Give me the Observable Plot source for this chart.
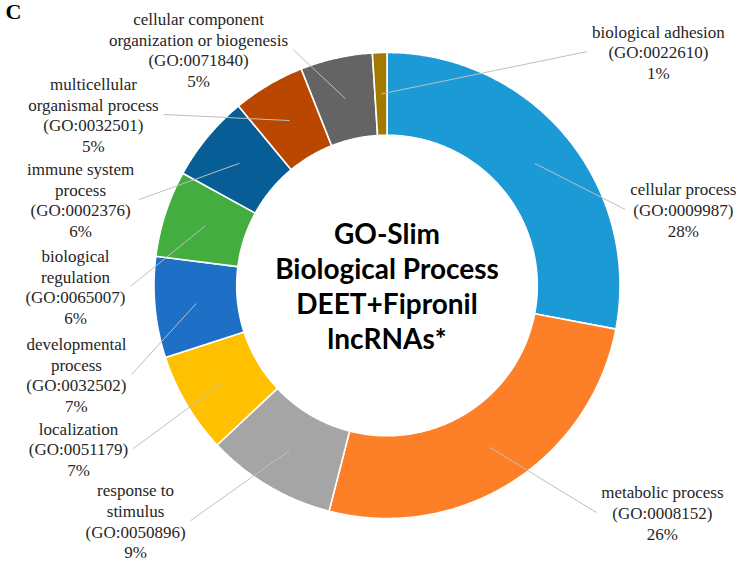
<!DOCTYPE html>
<html>
<head>
<meta charset="utf-8">
<script src="https://cdn.jsdelivr.net/npm/d3@7"></script>
<script src="https://cdn.jsdelivr.net/npm/@observablehq/plot@0.6"></script>
<style>
  html, body { margin: 0; padding: 0; background: #ffffff; }
  #chart { width: 739px; height: 562px; }
</style>
</head>
<body>
<div id="chart"></div>
<script>
// ---------- data ----------
const categories = [
  "cellular process", "metabolic process", "response to stimulus", "localization",
  "developmental process", "biological regulation", "immune system process",
  "multicellular organismal process", "cellular component organization or biogenesis",
  "biological adhesion"
];
const goIds = [
  "GO:0009987", "GO:0008152", "GO:0050896", "GO:0051179", "GO:0032502",
  "GO:0065007", "GO:0002376", "GO:0032501", "GO:0071840", "GO:0022610"
];
const percents = [28, 26, 9, 7, 7, 6, 6, 5, 5, 1];
const labelNameLines = [
  ["cellular process"], ["metabolic process"], ["response to", "stimulus"], ["localization"],
  ["developmental", "process"], ["biological", "regulation"], ["immune system", "process"],
  ["multicellular", "organismal process"], ["cellular component", "organization or biogenesis"],
  ["biological adhesion"]
];
const centerTitle = ["GO-Slim", "Biological Process", "DEET+Fipronil", "lncRNAs*"];
const panelLetter = "C";

// ---------- styles / layout ----------
const colors = ["#1c9ad6", "#fd7f27", "#a5a5a5", "#ffc000", "#1e6fc6",
                "#43ae3f", "#075d96", "#b94700", "#646464", "#a37a00"];
const W = 739, H = 562;
const CX = 386.5, CY = 285, R = 233;      // pixel centre and outer radius
const INNER = 0.645;                      // inner radius as fraction of outer
// label block centres, in units of the outer radius (x right, y up)
const labelAt = [
  [1.272, 0.326], [1.182, -0.974], [-1.079, -1.009], [-1.324, -0.700], [-1.333, -0.382],
  [-1.337, -0.004], [-1.315, 0.369], [-1.260, 0.734], [-0.809, 1.013], [1.165, 1.004]
];
const labelFont = "Liberation Serif";
const labelSize = 17;
const lineH = 20.7;

// ---------- geometry ----------
const arcs = d3.pie().sort(null).value(d => d)(percents);
const rows = [];
arcs.forEach((a, i) => {
  const n = Math.max(2, Math.ceil((a.endAngle - a.startAngle) / (Math.PI / 360)));
  const pts = [];
  for (let k = 0; k <= n; k++) {
    const t = a.startAngle + (a.endAngle - a.startAngle) * k / n;
    pts.push([Math.sin(t), Math.cos(t)]);
  }
  for (let k = n; k >= 0; k--) {
    const t = a.startAngle + (a.endAngle - a.startAngle) * k / n;
    pts.push([INNER * Math.sin(t), INNER * Math.cos(t)]);
  }
  pts.push(pts[0]);
  pts.forEach(([x, y]) => rows.push({name: categories[i], x, y}));
});

// text widths for leader line endpoints
const ctx = document.createElement("canvas").getContext("2d");
ctx.font = `${labelSize}px "${labelFont}", serif`;
const labels = categories.map((c, i) => {
  const lines = [...labelNameLines[i], `(${goIds[i]})`, `${percents[i]}%`];
  const w = d3.max(lines, l => ctx.measureText(l).width);
  const [lx, ly] = labelAt[i];
  const a = arcs[i];
  const mid = (a.startAngle + a.endAngle) / 2;
  const rm = (1 + INNER) / 2;
  const side = lx < 0 ? 1 : -1;
  return {
    text: lines.join("\n"),
    x: lx, y: ly,
    ax: rm * Math.sin(mid), ay: rm * Math.cos(mid),
    ex: lx + side * (w / 2 + 5) / R, ey: ly
  };
});

const chart = Plot.plot({
  width: W, height: H, margin: 0,
  style: {background: "#ffffff", overflow: "visible"},
  x: {domain: [-CX / R, (W - CX) / R], axis: null},
  y: {domain: [-(H - CY) / R, CY / R], axis: null},
  color: {domain: categories, range: colors},
  marks: [
    Plot.line(rows, {x: "x", y: "y", z: "name", fill: "name", stroke: "#ffffff",
                     strokeWidth: 1.6, curve: "linear"}),
    Plot.link(labels, {x1: "ax", y1: "ay", x2: "ex", y2: "ey", stroke: "#bfbfbf", strokeWidth: 1}),
    Plot.text(labels, {x: "x", y: "y", text: "text", fontFamily: `"${labelFont}", serif`, fontSize: labelSize,
                       lineHeight: lineH / labelSize, lineAnchor: "middle", textAnchor: "middle",
                       fill: "#262626"}),
    Plot.text([centerTitle.join("\n")], {x: () => 0, y: () => 0, text: d => d,
                       fontFamily: "Lato", fontWeight: "bold", fontSize: 28,
                       lineHeight: 35 / 28, lineAnchor: "middle", fill: "#000000"}),
    Plot.text([panelLetter], {text: d => d, frameAnchor: "top-left", dx: 5, dy: 3,
                       fontFamily: "Liberation Serif", fontWeight: "bold", fontSize: 22, fill: "#000000"})
  ]
});
document.getElementById("chart").appendChild(chart);
</script>
</body>
</html>
